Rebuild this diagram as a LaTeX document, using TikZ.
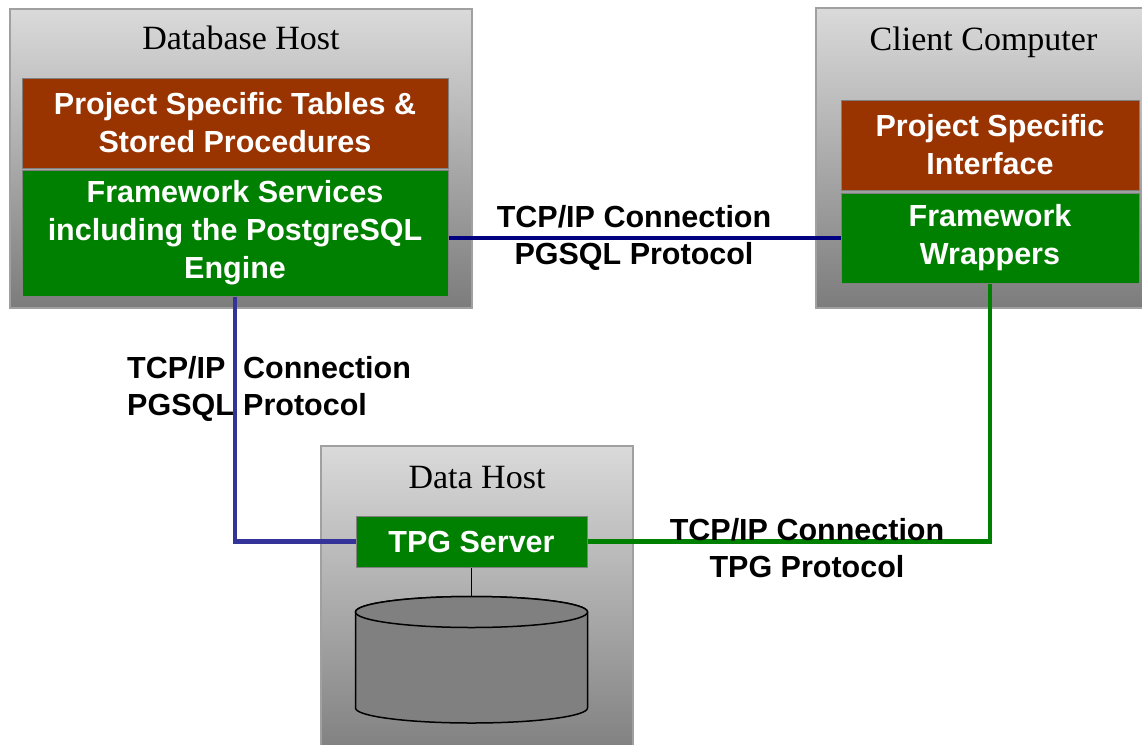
\documentclass[tikz,border=0pt]{standalone}
\usepackage{fontspec}
\setmainfont{Liberation Sans}
\newfontfamily\titlefont{Liberation Serif}
\definecolor{boxlight}{RGB}{218,218,218}
\definecolor{boxdark}{RGB}{124,124,124}
\definecolor{boxedge}{RGB}{160,160,160}
\definecolor{inneredge}{RGB}{128,128,128}
\definecolor{brownbox}{RGB}{153,51,0}
\definecolor{greenbox}{RGB}{0,128,0}
\definecolor{navyline}{RGB}{0,0,128}
\definecolor{blueline}{RGB}{51,51,153}
\definecolor{cylfill}{RGB}{128,128,128}
\tikzset{
  hostbox/.style={draw=boxedge, line width=1.5pt, top color=boxlight, bottom color=boxdark, inner sep=0pt},
  hosttitle/.style={anchor=base, inner sep=0pt, font=\titlefont\fontsize{34}{40}\selectfont},
  layerbox/.style={draw=inneredge, line width=1pt, text=white, align=center, inner sep=0pt,
     font=\bfseries\fontsize{30.5}{38}\selectfont},
  brownlayer/.style={layerbox, fill=brownbox},
  greenlayer/.style={layerbox, fill=greenbox},
  conn/.style={line width=4.5pt},
  conlabel/.style={inner sep=0pt, font=\bfseries\fontsize{30.5}{37}\selectfont},
  cylstyle/.style={draw=black, line width=1.5pt, fill=cylfill}
}
\begin{document}
\begin{tikzpicture}[x=1pt,y=1pt]
\useasboundingbox (0,0) rectangle (1142,-744);
\clip (0,0) rectangle (1142,-744);
\fill[white] (0,0) rectangle (1142,-744);

% Database Host
\node[hostbox, minimum width=462pt, minimum height=299pt] (dbhost) at (241,-158.5) {};
\node[hosttitle] (dbtitle) at (241,-49) {Database Host};
\node[brownlayer, minimum width=426pt, minimum height=90pt] (dbtables) at (235,-123)
  {Project Specific Tables \&\\Stored Procedures};
\node[greenlayer, minimum width=426pt, minimum height=126pt] (dbframe) at (235,-233)
  {Framework Services\\including the PostgreSQL\\Engine};

% Client Computer
\node[hostbox, minimum width=335pt, minimum height=300pt] (client) at (983.5,-158) {};
\node[hosttitle] (cltitle) at (983.5,-50) {Client Computer};
\node[brownlayer, minimum width=298pt, minimum height=90pt] (clinterface) at (990,-145)
  {Project Specific\\Interface};
\node[greenlayer, minimum width=298pt, minimum height=90pt] (clwrap) at (990,-238)
  {Framework\\Wrappers};

% Data Host
\node[hostbox, minimum width=312pt, minimum height=320pt] (datahost) at (477,-606) {};
\node[hosttitle] (dhtitle) at (477,-488) {Data Host};
\node[greenlayer, minimum width=231pt, minimum height=51pt] (tpg) at (471.5,-541.5) {TPG Server};

% cylinder (data store)
\coordinate (cyltop) at (471.5,-597);
\draw[cylstyle] (355.5,-612) -- (355.5,-708) arc[start angle=180, end angle=360, x radius=116pt, y radius=15pt]
  -- (587.5,-612) arc[start angle=0, end angle=180, x radius=116pt, y radius=15.5pt] -- cycle;
\draw[cylstyle] (471.5,-612) ellipse [x radius=116pt, y radius=15.5pt];

% connectors
\draw[conn, navyline] (dbframe.east |- clwrap.west) -- (clwrap.west);
\draw[conn, blueline] (dbframe.south) |- (tpg.west);
\draw[conn, greenbox] (tpg.east) -| (clwrap.south);
\draw[line width=1.5pt, black] (tpg.south) -- (cyltop);

% connector labels
\node[conlabel, align=center] (lbltop) at (634,-237.5) {TCP/IP Connection\\PGSQL Protocol};
\node[conlabel, align=left, anchor=west] (lblleft) at (127,-388.5)
  {\makebox[116pt][l]{TCP/IP}Connection\\\makebox[116pt][l]{PGSQL}Protocol};
\node[conlabel, align=center] (lblright) at (807,-548.5) {TCP/IP Connection\\TPG Protocol};
\end{tikzpicture}
\end{document}
